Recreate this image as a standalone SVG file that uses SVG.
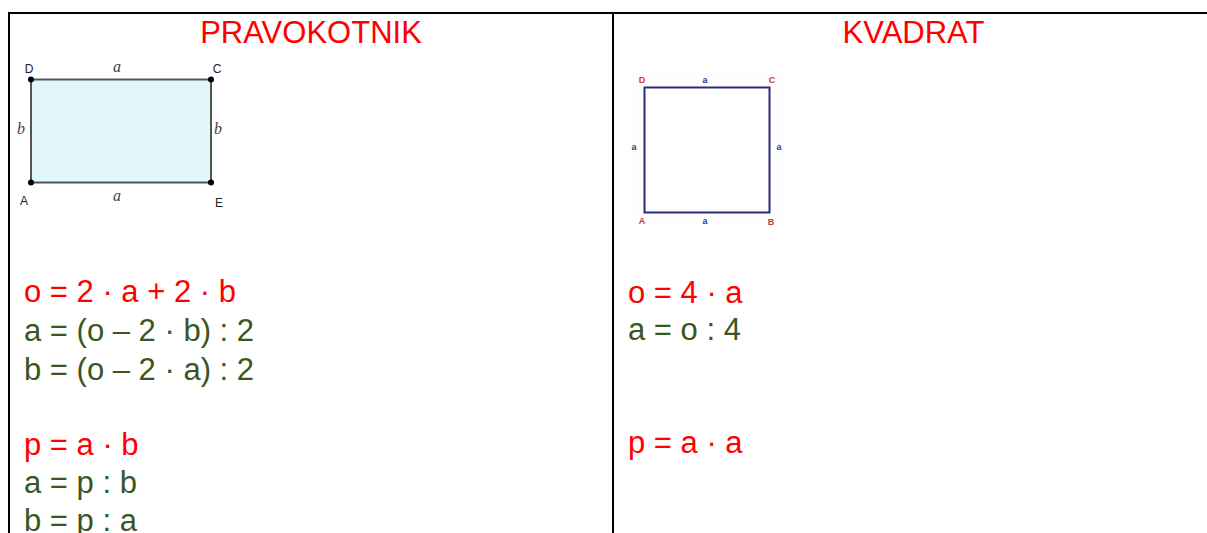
<svg xmlns="http://www.w3.org/2000/svg" width="1207" height="533" viewBox="0 0 1207 533">
<style>
.title{font-family:"Liberation Sans",Arial,sans-serif;font-size:31px;fill:#ff0000;text-anchor:middle}
.f{font-family:"Liberation Sans",Arial,sans-serif;font-size:31px}
.red{fill:#ff0000}
.grn{fill:#385723}
.pt{font-family:"Liberation Sans",Arial,sans-serif;font-size:12px;fill:#222;text-anchor:middle}
.it{font-family:"Liberation Serif","Times New Roman",serif;font-style:italic;font-size:16px;fill:#444;text-anchor:middle}
.sqp{font-family:"Liberation Sans",Arial,sans-serif;font-weight:bold;font-size:9px;fill:#c8383c;text-anchor:middle}
.sqa{font-family:"Liberation Sans",Arial,sans-serif;font-weight:bold;font-size:9px;fill:#2a3a9a;text-anchor:middle}
</style>
<rect width="1207" height="533" fill="#ffffff"/>
<g id="table" stroke="#000" stroke-width="2" fill="none">
<line x1="8" y1="13" x2="1207" y2="13"/>
<line x1="9" y1="12" x2="9" y2="533"/>
<line x1="613" y1="12" x2="613" y2="533"/>
</g>
<g id="rect-figure">
<rect x="31" y="79.5" width="180" height="103" fill="#e1f7fa" stroke="#555" stroke-width="2"/>
<circle cx="31" cy="79.5" r="3" fill="#000"/>
<circle cx="211" cy="79.5" r="3" fill="#000"/>
<circle cx="31" cy="182.5" r="3" fill="#000"/>
<circle cx="211" cy="182.5" r="3" fill="#000"/>
<text class="pt" x="29" y="73">D</text>
<text class="pt" x="217" y="73">C</text>
<text class="pt" x="24" y="205">A</text>
<text class="pt" x="219" y="207">E</text>
<text class="it" x="117" y="72">a</text>
<text class="it" x="117" y="201">a</text>
<text class="it" x="21" y="134">b</text>
<text class="it" x="218" y="134">b</text>
</g>
<g id="square-figure">
<rect x="627" y="70" width="157" height="160" fill="#fefefe"/>
<rect x="644.5" y="87.5" width="125" height="125" fill="#ffffff" stroke="#2b2b7e" stroke-width="2"/>
<text class="sqp" x="642" y="83">D</text>
<text class="sqp" x="772" y="83">C</text>
<text class="sqp" x="642" y="224">A</text>
<text class="sqp" x="771" y="225">B</text>
<text class="sqa" x="705" y="83">a</text>
<text class="sqa" x="705" y="224">a</text>
<text class="sqa" x="634" y="150">a</text>
<text class="sqa" x="779" y="150">a</text>
</g>
<g id="left-column">
<text class="title" x="311" y="42.5">PRAVOKOTNIK</text>
<text class="f red" x="24" y="302">o = 2 · a + 2 · b</text>
<text class="f grn" x="24" y="341">a = (o – 2 · b) : 2</text>
<text class="f grn" x="24" y="380">b = (o – 2 · a) : 2</text>
<text class="f red" x="24" y="455">p = a · b</text>
<text class="f grn" x="24" y="493">a = p : b</text>
<text class="f grn" x="24" y="531">b = p : a</text>
</g>
<g id="right-column">
<text class="title" x="913.5" y="42.5">KVADRAT</text>
<text class="f red" x="628" y="303">o = 4 · a</text>
<text class="f grn" x="628" y="340">a = o : 4</text>
<text class="f red" x="628" y="453">p = a · a</text>
</g>
</svg>
